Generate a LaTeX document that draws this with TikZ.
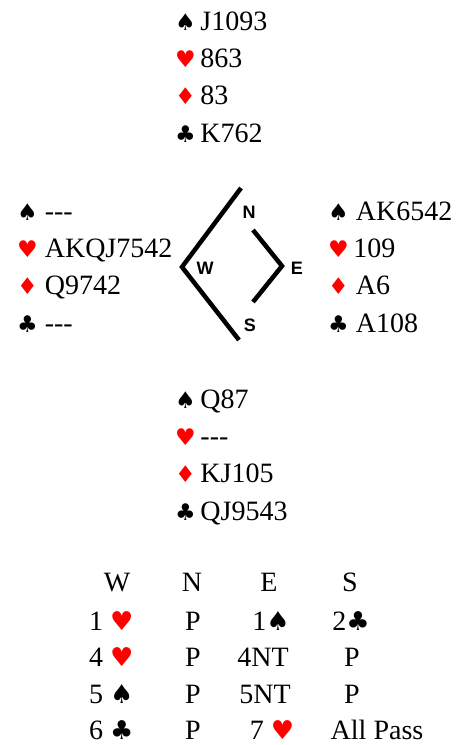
\documentclass[tikz,border=0pt]{standalone}
\usepackage{fontspec}
\setmainfont{Liberation Serif}
\newfontfamily\suitfont{DejaVu Sans}
\newfontfamily\dirfont{Liberation Sans}
\usepackage{xcolor}
\usepackage{tikz}
\usetikzlibrary{positioning}

\newcommand{\suitpt}{23}
\newcommand{\suitsel}{\suitfont\fontsize{\suitpt}{\suitpt}\selectfont}
\newcommand{\suitS}{{\suitsel ♠}}
\newcommand{\suitH}{{\suitsel\color{red}♥}}
\newcommand{\suitD}{{\suitsel\color{red}♦}}
\newcommand{\suitC}{{\suitsel ♣}}
\newcommand{\void}{-{}-{}-}

\begin{document}
\begin{tikzpicture}[x=1pt, y=-1pt,
    node distance=11pt,
    cardline/.style={inner sep=0pt, text height=20pt, text depth=6pt, font=\fontsize{28}{28}\selectfont},
    bid/.style={inner sep=0pt, anchor=base, font=\fontsize{28}{28}\selectfont\renewcommand{\suitpt}{26}},
    dirlabel/.style={inner sep=0pt, font=\dirfont\bfseries\fontsize{18}{18}\selectfont},
    compass/.style={line width=4.5pt}
]
\useasboundingbox (0,0) rectangle (467,745);
% North
\node[cardline, anchor=base west] (n1) at (175,30) {\suitS\,J1093};
\node[cardline, below=of n1.south west, anchor=north west] (n2) {\suitH\,863};
\node[cardline, below=of n2.south west, anchor=north west] (n3) {\suitD\,83};
\node[cardline, below=of n3.south west, anchor=north west] (n4) {\suitC\,K762};
% West
\node[cardline, anchor=base west] (w1) at (17,220) {\suitS\ \void};
\node[cardline, below=of w1.south west, anchor=north west] (w2) {\suitH\ AKQJ7542};
\node[cardline, below=of w2.south west, anchor=north west] (w3) {\suitD\ Q9742};
\node[cardline, below=of w3.south west, anchor=north west] (w4) {\suitC\ \void};
% East
\node[cardline, anchor=base west] (e1) at (328,220) {\suitS\ AK6542};
\node[cardline, below=of e1.south west, anchor=north west] (e2) {\suitH\,109};
\node[cardline, below=of e2.south west, anchor=north west] (e3) {\suitD\ A6};
\node[cardline, below=of e3.south west, anchor=north west] (e4) {\suitC\ A108};
% South
\node[cardline, anchor=base west] (s1) at (175,408) {\suitS\,Q87};
\node[cardline, below=of s1.south west, anchor=north west] (s2) {\suitH\,\void};
\node[cardline, below=of s2.south west, anchor=north west] (s3) {\suitD\,KJ105};
\node[cardline, below=of s3.south west, anchor=north west] (s4) {\suitC\,QJ9543};

% compass
\draw[compass] (241,188) -- (182,267) -- (239,340);
\draw[compass] (253,230) -- (282,266) -- (253,302);
\node[dirlabel] (dN) at (249,212) {N};
\node[dirlabel] (dW) at (205,268) {W};
\node[dirlabel] (dE) at (297,268) {E};
\node[dirlabel] (dS) at (250,325) {S};

% bidding
\node[bid] (hW) at (117,591) {W};
\node[bid] (hN) at (192,591) {N};
\node[bid] (hE) at (269,591) {E};
\node[bid] (hS) at (350,591) {S};
\node[bid, anchor=base west] (bW1) at (89,630) {1 \suitH};
\node[bid] (bN1) at (193,630) {P};
\node[bid] (bE1) at (271,630) {1\suitS};
\node[bid] (bS1) at (351,630) {2\suitC};
\node[bid, anchor=base west] (bW2) at (89,666) {4 \suitH};
\node[bid] (bN2) at (193,666) {P};
\node[bid] (bE2) at (263,666) {4NT};
\node[bid] (bS2) at (352,666) {P};
\node[bid, anchor=base west] (bW3) at (89,703) {5 \suitS};
\node[bid] (bN3) at (193,703) {P};
\node[bid] (bE3) at (265,703) {5NT};
\node[bid] (bS3) at (352,703) {P};
\node[bid, anchor=base west] (bW4) at (89,739) {6 \suitC};
\node[bid] (bN4) at (193,739) {P};
\node[bid] (bE4) at (272,739) {7 \suitH};
\node[bid] (bS4) at (377,739) {All Pass};
\end{tikzpicture}
\end{document}
